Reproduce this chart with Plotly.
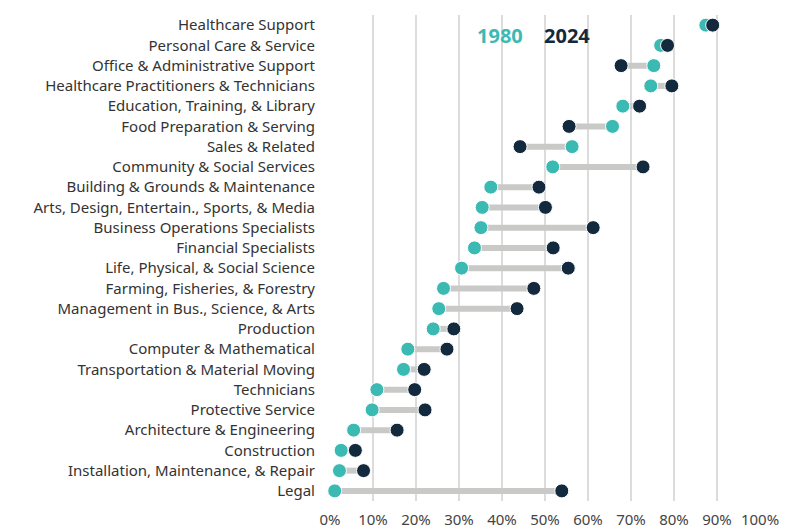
import plotly.graph_objects as go

# occupations, top to bottom
occupations = [
    "Healthcare Support",
    "Personal Care & Service",
    "Office & Administrative Support",
    "Healthcare Practitioners & Technicians",
    "Education, Training, & Library",
    "Food Preparation & Serving",
    "Sales & Related",
    "Community & Social Services",
    "Building & Grounds & Maintenance",
    "Arts, Design, Entertain., Sports, & Media",
    "Business Operations Specialists",
    "Financial Specialists",
    "Life, Physical, & Social Science",
    "Farming, Fisheries, & Forestry",
    "Management in Bus., Science, & Arts",
    "Production",
    "Computer & Mathematical",
    "Transportation & Material Moving",
    "Technicians",
    "Protective Service",
    "Architecture & Engineering",
    "Construction",
    "Installation, Maintenance, & Repair",
    "Legal",
]

# share (fraction) in each year
share_1980 = [0.874, 0.769, 0.753, 0.746, 0.681, 0.657, 0.563, 0.518,
              0.374, 0.354, 0.351, 0.336, 0.306, 0.264, 0.253, 0.240,
              0.181, 0.171, 0.109, 0.098, 0.055, 0.026, 0.022, 0.011]
share_2024 = [0.890, 0.785, 0.677, 0.795, 0.720, 0.556, 0.442, 0.728,
              0.486, 0.501, 0.612, 0.519, 0.554, 0.474, 0.435, 0.288,
              0.272, 0.219, 0.197, 0.221, 0.156, 0.059, 0.078, 0.539]

tick_vals = [i / 10 for i in range(11)]
tick_text = [f"{i * 10}%" for i in range(11)]

TEAL = "#3bbab3"
NAVY = "#13293d"
BAR = "#c9cac7"

fig = go.Figure()

# grey connectors between the two years
for occ, a, b in zip(occupations, share_1980, share_2024):
    fig.add_trace(go.Scatter(
        x=[a, b], y=[occ, occ], mode="lines",
        line=dict(color=BAR, width=6),
        hoverinfo="skip", showlegend=False, cliponaxis=False,
    ))

fig.add_trace(go.Scatter(
    x=share_1980, y=occupations, mode="markers", name="1980",
    marker=dict(color=TEAL, size=14, line=dict(color="white", width=1)),
    showlegend=False, cliponaxis=False,
))
fig.add_trace(go.Scatter(
    x=share_2024, y=occupations, mode="markers", name="2024",
    marker=dict(color=NAVY, size=14, line=dict(color="white", width=1)),
    showlegend=False, cliponaxis=False,
))

# year labels in place of a legend
fig.add_annotation(xref="x", x=0.337, yref="y", y=occupations[0], yshift=-10,
                   xanchor="left", text="<b>1980</b>", showarrow=False,
                   font=dict(size=20, color=TEAL, family="Noto Sans"))
fig.add_annotation(xref="x", x=0.493, yref="y", y=occupations[0], yshift=-10,
                   xanchor="left", text="<b>2024</b>", showarrow=False,
                   font=dict(size=20, color=NAVY, family="Noto Sans"))

fig.update_layout(
    width=800, height=531,
    margin=dict(l=322, r=48, t=7, b=38),
    plot_bgcolor="white", paper_bgcolor="white",
    font=dict(family="Noto Sans", size=15, color="#333333"),
    xaxis=dict(
        range=[0, 1], tickvals=tick_vals, ticktext=tick_text,
        showgrid=True, gridcolor="#dcdcdc", gridwidth=2,
        zeroline=False, showline=False,
        ticklabelstandoff=8,
        tickfont=dict(size=15, color="#444444"),
    ),
    yaxis=dict(
        categoryorder="array", categoryarray=occupations,
        range=[len(occupations) - 0.5, -0.5],
        showgrid=False, zeroline=False, showline=False,
        ticklabelstandoff=14,
        tickfont=dict(size=15, color="#333333"),
    ),
)

fig.write_html("out.html")
